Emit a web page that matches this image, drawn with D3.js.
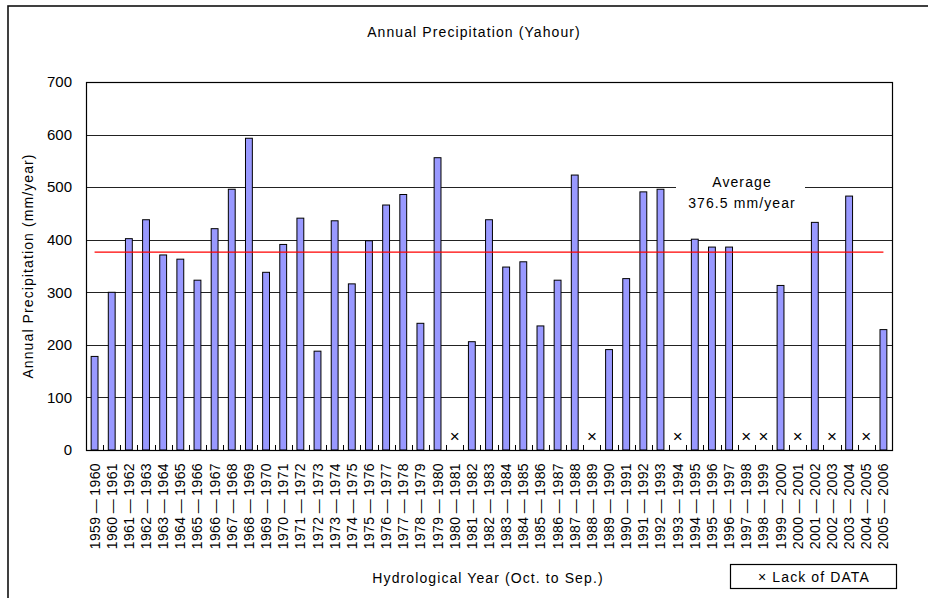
<!DOCTYPE html>
<meta charset="utf-8">
<script src="https://d3js.org/d3.v7.min.js"></script>
<style>
  body { margin: 0; background: #fff; }
  text { font-family: "Liberation Sans", Arial, sans-serif; fill: #000; }
  .wide { letter-spacing: 1.1px; }
</style>
<div id="my_dataviz"></div>
<script>

// hydrological years (Oct. to Sep.)
var years = ["1959-1960","1960-1961","1961-1962","1962-1963","1963-1964","1964-1965",
  "1965-1966","1966-1967","1967-1968","1968-1969","1969-1970","1970-1971","1971-1972",
  "1972-1973","1973-1974","1974-1975","1975-1976","1976-1977","1977-1978","1978-1979",
  "1979-1980","1980-1981","1981-1982","1982-1983","1983-1984","1984-1985","1985-1986",
  "1986-1987","1987-1988","1988-1989","1989-1990","1990-1991","1991-1992","1992-1993",
  "1993-1994","1994-1995","1995-1996","1996-1997","1997-1998","1998-1999","1999-2000",
  "2000-2001","2001-2002","2002-2003","2003-2004","2004-2005","2005-2006"];

// annual precipitation mm/year, null = lack of data
var precip = [178, 300, 402, 438, 371, 363,
  323, 421, 496, 593, 338, 391, 441,
  188, 436, 316, 398, 466, 486, 241,
  556, null, 206, 438, 348, 358, 236,
  323, 523, null, 191, 326, 491, 496,
  null, 401, 386, 386, null, null, 313,
  null, 433, null, 483, null, 229];

var average = 376.5;
var yTicks = [0, 100, 200, 300, 400, 500, 600, 700];

var W = 928, H = 598;
var margin = {top: 82, right: 36, bottom: 148, left: 86},
    width = W - margin.left - margin.right,
    height = H - margin.top - margin.bottom;

var svg = d3.select("#my_dataviz")
  .append("svg")
    .attr("width", W)
    .attr("height", H);

// outer chart frame
svg.append("rect")
  .attr("x", 8).attr("y", 6)
  .attr("width", W).attr("height", H)
  .attr("fill", "none")
  .attr("stroke", "#111")
  .attr("stroke-width", 1.6);

svg.append("text")
  .attr("class", "wide")
  .attr("x", 474).attr("y", 37)
  .attr("text-anchor", "middle")
  .style("font-size", "14px")
  .text("Annual Precipitation (Yahour)");

var g = svg.append("g")
  .attr("transform", "translate(" + margin.left + "," + margin.top + ")");

var x = d3.scaleBand()
  .domain(years)
  .range([0, width]);

var y = d3.scaleLinear()
  .domain([0, 700])
  .range([height, 0]);

// grid lines
g.selectAll(".grid")
  .data(yTicks.slice(1, -1))
  .enter().append("line")
    .attr("x1", 0).attr("x2", width)
    .attr("y1", function(d) { return Math.round(y(d)) + 0.5; })
    .attr("y2", function(d) { return Math.round(y(d)) + 0.5; })
    .attr("stroke", "#222")
    .attr("stroke-width", 1);

// y axis labels
var yAxis = g.append("g")
  .call(d3.axisLeft(y).tickValues(yTicks).tickSize(0).tickPadding(14));
yAxis.select(".domain").remove();
yAxis.selectAll("text")
  .style("font-size", "15px")
  .style("font-family", "Liberation Sans, Arial, sans-serif");

// x axis: inward ticks at band edges
var bw = x.bandwidth();
g.selectAll(".xtick")
  .data(years.slice(1))
  .enter().append("line")
    .attr("x1", function(d) { return Math.round(x(d)) + 0.5; })
    .attr("x2", function(d) { return Math.round(x(d)) + 0.5; })
    .attr("y1", height).attr("y2", height - 5)
    .attr("stroke", "#000");

g.selectAll(".xlabel")
  .data(years)
  .enter().append("text")
    .attr("transform", function(d) {
      return "translate(" + (x(d) + bw / 2 + 5) + "," + (height + 13) + ") rotate(-90)";
    })
    .attr("text-anchor", "end")
    .style("font-size", "14px")
    .style("letter-spacing", "0.4px")
    .text(function(d) { return d.replace("-", "\u2009\u2014\u2009"); });

// bars
var data = years.map(function(d, i) { return {year: d, value: precip[i]}; });

g.selectAll(".bar")
  .data(data.filter(function(d) { return d.value !== null; }))
  .enter().append("rect")
    .attr("x", function(d) { return x(d.year) + bw * 0.3; })
    .attr("width", bw * 0.4)
    .attr("y", function(d) { return y(d.value); })
    .attr("height", function(d) { return height - y(d.value); })
    .attr("fill", "#9999ff")
    .attr("stroke", "#000")
    .attr("stroke-width", 1);

// lack of data markers
g.selectAll(".miss")
  .data(data.filter(function(d) { return d.value === null; }))
  .enter().append("text")
    .attr("x", function(d) { return x(d.year) + bw / 2; })
    .attr("y", height - 8)
    .attr("text-anchor", "middle")
    .style("font-size", "17px")
    .text("\u00d7");

// plot frame
g.append("rect")
  .attr("x", 0.5).attr("y", 0.5)
  .attr("width", width).attr("height", height)
  .attr("fill", "none")
  .attr("stroke", "#000")
  .attr("stroke-width", 1.2);

// average line
g.append("line")
  .attr("x1", x(years[0]) + bw / 2)
  .attr("x2", x(years[years.length - 1]) + bw / 2)
  .attr("y1", y(average)).attr("y2", y(average))
  .attr("stroke", "#ff0000")
  .attr("stroke-width", 1.2);

// average label
g.append("rect")
  .attr("x", 676 - margin.left).attr("y", 170 - margin.top)
  .attr("width", 129).attr("height", 42)
  .attr("fill", "#fff");
g.append("text")
  .attr("class", "wide")
  .attr("x", 742 - margin.left).attr("y", 187 - margin.top)
  .attr("text-anchor", "middle")
  .style("font-size", "14px")
  .text("Average");
g.append("text")
  .attr("class", "wide")
  .attr("x", 742 - margin.left).attr("y", 208 - margin.top)
  .attr("text-anchor", "middle")
  .style("font-size", "14px")
  .text(average + " mm/year");

// axis titles
svg.append("text")
  .attr("class", "wide")
  .attr("transform", "translate(33," + 266 + ") rotate(-90)")
  .attr("text-anchor", "middle")
  .style("font-size", "14px")
  .text("Annual Precipitation (mm/year)");

svg.append("text")
  .attr("class", "wide")
  .attr("x", 488).attr("y", 583)
  .attr("text-anchor", "middle")
  .style("font-size", "14px")
  .text("Hydrological Year (Oct. to Sep.)");

// legend
svg.append("rect")
  .attr("x", 730.5).attr("y", 564.5)
  .attr("width", 166).attr("height", 24)
  .attr("fill", "#fff")
  .attr("stroke", "#000")
  .attr("stroke-width", 1.2);
svg.append("text")
  .attr("class", "wide")
  .attr("x", 814).attr("y", 582)
  .attr("text-anchor", "middle")
  .style("font-size", "14px")
  .text("\u00d7 Lack of DATA");

</script>
